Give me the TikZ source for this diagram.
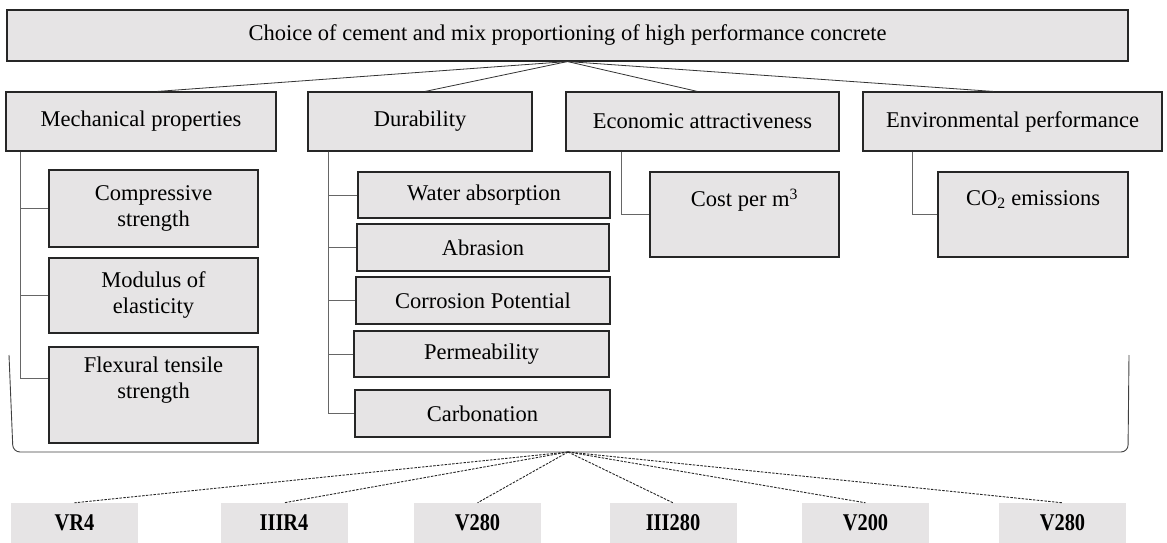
\documentclass[tikz,border=0pt]{standalone}
\usepackage{fontspec}
\setmainfont{Liberation Serif}
\newfontfamily\cemfont[FakeStretch=0.85]{Liberation Serif}
\definecolor{boxgray}{RGB}{230,228,229}
\begin{document}
\begin{tikzpicture}[x=1pt,y=-1pt,
    crit/.style={draw=black!85,line width=1.1pt,fill=boxgray,inner sep=0pt,
      align=center,font=\fontsize{22.5}{26}\selectfont},
    cement/.style={fill=boxgray,inner sep=0pt,minimum width=127pt,
      minimum height=40pt,font=\cemfont\bfseries\fontsize{24}{26}\selectfont},
    trunk/.style={draw=black!60,line width=0.9pt},
    guess/.style={draw=black!85,line width=0.9pt,dash pattern=on 2.5pt off 1.3pt}]
  \useasboundingbox (0,0) rectangle (1167,543);
  \path
    (567.5,35.5) node[crit,minimum width=1121pt,minimum height=51pt] (top)
      {Choice of cement and mix proportioning of high performance concrete}
    (141,121.5) node[crit,minimum width=270pt,minimum height=59pt] (mech){Mechanical properties}
    (420,121.5) node[crit,minimum width=224pt,minimum height=59pt] (dura){Durability}
    (702.5,121.5) node[crit,minimum width=273pt,minimum height=59pt] (econ){Economic attractiveness}
    (1012.5,121.5) node[crit,minimum width=299pt,minimum height=59pt] (env){Environmental performance}
    (153.5,208.5) node[crit,minimum width=209pt,minimum height=77pt] (comp){Compressive\\strength}
    (153.5,295.5) node[crit,minimum width=209pt,minimum height=75pt] (modu){Modulus of\\elasticity}
    (153.5,395) node[crit,minimum width=209pt,minimum height=96pt] (flex){Flexural tensile\\strength\\ \strut}
    (484,195) node[crit,minimum width=252pt,minimum height=46pt] (water){Water absorption}
    (483,247.5) node[crit,minimum width=252pt,minimum height=47pt] (abra){Abrasion}
    (483,300.5) node[crit,minimum width=254pt,minimum height=47pt] (corr){Corrosion Potential}
    (481.5,354) node[crit,minimum width=255pt,minimum height=46pt] (perm){Permeability}
    (482.5,413.5) node[crit,minimum width=255pt,minimum height=47pt] (carb){Carbonation}
    (744.5,214.5) node[crit,minimum width=189pt,minimum height=85pt] (cost){Cost per m\textsuperscript{3}\\ \strut}
    (1033,214.5) node[crit,minimum width=190pt,minimum height=85pt] (co2){CO\textsubscript{2} emissions\\ \strut}
    (74.5,523) node[cement] (cem1){VR4}
    (284,523) node[cement] (cem2){IIIR4}
    (477.5,523) node[cement] (cem3){V280}
    (673,523) node[cement] (cem4){III280}
    (865.5,523) node[cement] (cem5){V200}
    (1062.5,523) node[cement] (cem6){V280};
  \begin{scope}[draw=black!80,line width=0.8pt]
    \draw (top.south) to ([xshift=16pt]mech.north);
    \draw (top.south) to ([xshift=5pt]dura.north);
    \draw (top.south) to ([xshift=-5pt]econ.north);
    \draw (top.south) to ([xshift=-19pt]env.north);
  \end{scope}
  \begin{scope}[trunk]
    \draw ([xshift=15pt]mech.south west) |- (comp.west);
    \draw ([xshift=15pt]mech.south west) |- (modu.west);
    \draw ([xshift=15pt]mech.south west) |- ([yshift=17pt]flex.west);
    \draw ([xshift=21pt]dura.south west) |- (water.west);
    \draw ([xshift=21pt]dura.south west) |- (abra.west);
    \draw ([xshift=21pt]dura.south west) |- (corr.west);
    \draw ([xshift=21pt]dura.south west) |- (perm.west);
    \draw ([xshift=21pt]dura.south west) |- (carb.west);
    \draw ([xshift=56pt]econ.south west) |- (cost.west);
    \draw ([xshift=50pt]env.south west) |- (co2.west);
  \end{scope}
  % brace round the criteria
  \coordinate (tip) at (568,452);
  \draw[black!75,line width=0.9pt,rounded corners=7pt]
    (9,355) -- (13,452) -- (tip) -- (1128,452) -- (1129,355);
  \foreach \c in {cem1,cem2,cem3,cem4,cem5,cem6}
    \draw[guess] (tip) -- (\c.north);
\end{tikzpicture}
\end{document}
